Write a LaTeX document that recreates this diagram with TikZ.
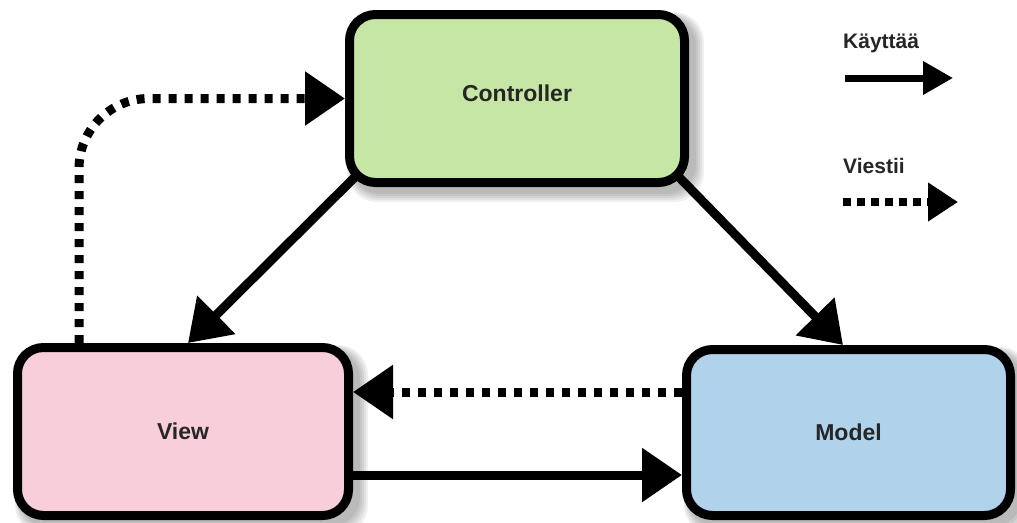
\documentclass[tikz,border=0pt]{standalone}
\usepackage{fontspec}
\setmainfont{Liberation Sans}
\usetikzlibrary{arrows.meta}
\pgfdeclarelayer{back}
\pgfdeclarelayer{shade}
\pgfdeclarelayer{bg}
\pgfsetlayers{back,bg,shade,main}
\definecolor{ctlfill}{RGB}{198,230,165}
\definecolor{viewfill}{RGB}{247,206,218}
\definecolor{modelfill}{RGB}{176,210,235}
\tikzset{
  box/.style={draw=black, line width=9pt, rounded corners=26pt,
    font=\bfseries\fontsize{23}{27}\selectfont, text=black!85},
  uses/.style={line width=9pt, -{Triangle[length=40pt,width=52pt]}},
  sends/.style={line width=9pt, dash pattern=on 8pt off 8pt, -{Triangle[length=40pt,width=52pt]}},
  legtext/.style={anchor=base west, font=\bfseries\fontsize{21}{25}\selectfont, text=black!85, inner sep=0pt},
  softshade/.style={fill=black, fill opacity=0.06, rounded corners=30pt},
}
\begin{document}
\begin{tikzpicture}[x=1pt,y=-1pt]
\begin{pgfonlayer}{back}
\fill[white] (0,0) rectangle (1017,522);
\end{pgfonlayer}
\useasboundingbox (0,0) rectangle (1017,522);

\node[box, fill=ctlfill, minimum width=335pt, minimum height=168pt, text depth=10pt] (ctl) at (517,98.5) {Controller};
\node[box, fill=viewfill, minimum width=331pt, minimum height=168pt] (view) at (183,431.5) {View};
\node[box, fill=modelfill, minimum width=324pt, minimum height=166pt] (model) at (848.5,432.5) {Model};

\begin{pgfonlayer}{shade}
\foreach \n in {ctl,view,model}{
  \foreach \i in {0,2,4,6,8}{
    \fill[softshade] ([shift={({(6-\i/2)*1pt},{(\i/2-6)*1pt})}]\n.north west)
      rectangle ([shift={({(7+\i)*1pt},{(-7-\i)*1pt})}]\n.south east);
  }
}
\end{pgfonlayer}

\begin{pgfonlayer}{bg}
\draw[uses] ([shift={(14pt,14pt)}]ctl.south west) -- ([xshift=5pt]view.north);
\draw[uses] ([shift={(-14pt,14pt)}]ctl.south east) -- ([xshift=-5.5pt]model.north);
\draw[sends] ([yshift=40.5pt]model.west) -- ([yshift=39.5pt]view.east);
\draw[uses] ([yshift=-43.5pt]view.east) -- ([yshift=-42.5pt]model.west);
\draw[sends, rounded corners=70pt] ([xshift=-104pt]view.north) |- (ctl.west);
\end{pgfonlayer}

\node[legtext] (lk) at (843,48) {Käyttää};
\coordinate (k1) at (845,78);
\coordinate (k2) at (953,78);
\draw[line width=7pt, -{Triangle[length=30pt,width=32pt]}] (k1) -- (k2);
\node[legtext] (lv) at (843,173) {Viestii};
\coordinate (v1) at (843,202);
\coordinate (v2) at (958,202);
\draw[line width=8pt, dash pattern=on 8pt off 6pt, -{Triangle[length=30pt,width=37pt]}] (v1) -- (v2);
\end{tikzpicture}
\end{document}
